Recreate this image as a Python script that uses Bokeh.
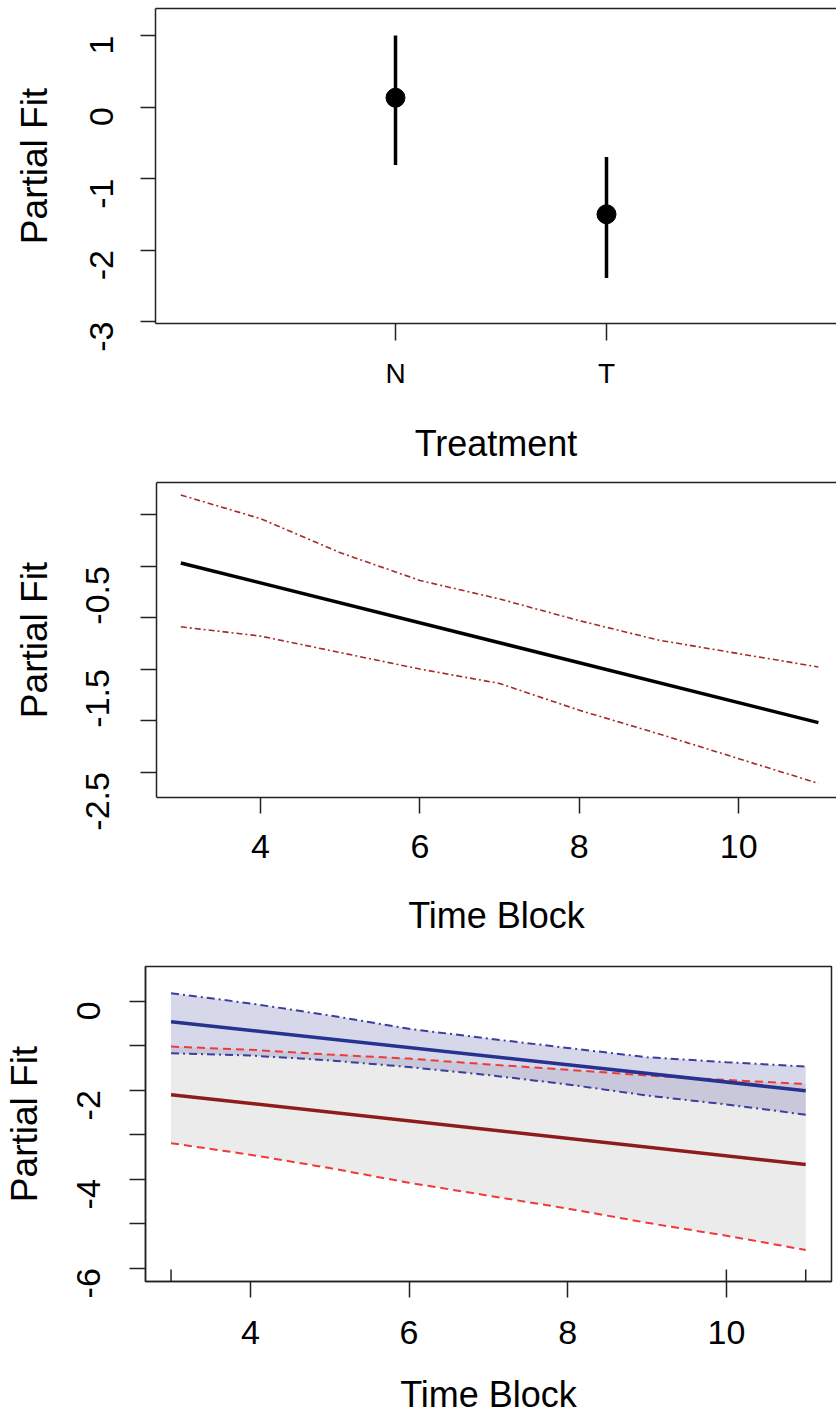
import math
from bokeh.plotting import figure
from bokeh.layouts import column
from bokeh.models import FixedTicker, LinearAxis, Range1d
from bokeh.embed import file_html
from bokeh.resources import INLINE

FONT = "Liberation Sans"
INK = "#222222"

# ---------------- Panel 1: Treatment effect ----------------
treatments = ["N", "T"]
treat_fit = [0.13, -1.50]
treat_lo = [-0.81, -2.39]
treat_hi = [1.00, -0.70]
p1_yticks = [-3, -2, -1, 0, 1]
p1_ylabels = ["-3", "-2", "-1", "0", "1"]

# ---------------- Panel 2: Time block effect ----------------
time_blocks = [3, 4, 5, 6, 7, 8, 9, 10, 11]
fit_ends_x = [3, 11]
time_fit = [-0.47, -2.02]
time_upper = [0.19, -0.04, -0.37, -0.64, -0.82, -1.03, -1.22, -1.35, -1.48]
time_lower = [-1.09, -1.18, -1.34, -1.50, -1.64, -1.90, -2.13, -2.37, -2.61]
p2_yticks = [-2.5, -2, -1.5, -1, -0.5, 0]
p2_ylabels = ["-2.5", "", "-1.5", "", "-0.5", ""]
time_xticks = [4, 6, 8, 10]
time_xlabels = ["4", "6", "8", "10"]

# ---------------- Panel 3: Time block by treatment ----------------
n_fit = [-0.46, -2.01]
n_upper = [0.18, -0.05, -0.32, -0.62, -0.84, -1.05, -1.26, -1.37, -1.47]
n_lower = [-1.17, -1.22, -1.33, -1.48, -1.66, -1.87, -2.12, -2.32, -2.55]
t_fit = [-2.10, -3.67]
t_upper = [-1.02, -1.09, -1.20, -1.29, -1.42, -1.54, -1.67, -1.77, -1.86]
t_lower = [-3.19, -3.45, -3.75, -4.08, -4.37, -4.66, -4.98, -5.27, -5.59]
rug_x = [3, 10, 11]
p3_yticks = [-6, -5, -4, -3, -2, -1, 0]
p3_ylabels = ["-6", "", "-4", "", "-2", "", "0"]


def make_fig(height, x_range, y_range, mb_left, mb_top, mb_bottom, mb_right, box):
    p = figure(width=836, height=height, output_backend="svg", toolbar_location=None,
               x_range=Range1d(*x_range), y_range=Range1d(*y_range),
               min_border_left=mb_left, min_border_top=mb_top,
               min_border_bottom=mb_bottom, min_border_right=mb_right)
    p.frame_align = False
    p.grid.visible = False
    p.background_fill_color = "white"
    p.border_fill_color = "white"
    if box:
        p.outline_line_color = INK
        p.outline_line_width = 1.5
        p.outline_line_alpha = 1.0
    else:
        p.outline_line_color = None
        top = LinearAxis(ticker=FixedTicker(ticks=[]), axis_line_color=INK, axis_line_width=1.5,
                         major_tick_line_color=None, minor_tick_line_color=None,
                         major_tick_in=0, major_tick_out=0,
                         major_label_text_font_size="0px", major_label_standoff=0)
        p.add_layout(top, "above")
    return p


def style_axes(p, xticks, xlabels, xfont, xtick_len, xstand, xtitle, xtstand,
               yticks, ylabels, ytick_len, ystand, ytstand):
    xa = p.below[0]
    xa.ticker = FixedTicker(ticks=xticks)
    xa.major_label_overrides = {t: l for t, l in zip(xticks, xlabels)}
    ya = p.left[0]
    ya.ticker = FixedTicker(ticks=yticks)
    ya.major_label_overrides = {t: l for t, l in zip(yticks, ylabels)}
    ya.major_label_orientation = math.pi / 2
    for ax, tl, st, ts in ((xa, xtick_len, xstand, xtstand), (ya, ytick_len, ystand, ytstand)):
        ax.axis_line_color = INK
        ax.axis_line_width = 1.5
        ax.major_tick_line_color = INK
        ax.major_tick_line_width = 1.5
        ax.major_tick_in = 0
        ax.major_tick_out = tl
        ax.minor_tick_line_color = None
        ax.major_label_text_font = FONT
        ax.major_label_text_color = "black"
        ax.major_label_standoff = st
        ax.axis_label_text_font = FONT
        ax.axis_label_text_font_style = "normal"
        ax.axis_label_text_color = "black"
        ax.axis_label_standoff = ts
    xa.major_label_text_font_size = xfont
    ya.major_label_text_font_size = "34px"
    xa.axis_label_text_font_size = "36px"
    ya.axis_label_text_font_size = "37px"
    xa.axis_label = xtitle
    ya.axis_label = "Partial Fit"


# ---- Figure 1 ----
p1 = make_fig(474, (-0.1374, 3.090), (-3.028, 1.378), 155, 8, 151, 0, box=False)
treat_pos = [i + 1 for i in range(len(treatments))]
p1.segment(x0=treat_pos, y0=treat_lo, x1=treat_pos, y1=treat_hi, line_color="black", line_width=3.5)
p1.scatter(x=treat_pos, y=treat_fit, size=19, marker="circle", fill_color="black", line_color="black")
style_axes(p1, treat_pos, treatments, "28px", 17, 17, "Treatment", 31,
           p1_yticks, p1_ylabels, 15, 39, 21)

# ---- Figure 2 ----
p2 = make_fig(470, (2.695, 11.227), (-2.747, 0.311), 156, 8, 147, 0, box=False)
p2.line(time_blocks, time_upper, line_color="#A52A2A", line_width=1.6, line_dash="6 3 2 3")
p2.line(time_blocks, time_lower, line_color="#A52A2A", line_width=1.6, line_dash="6 3 2 3")
p2.line(fit_ends_x, time_fit, line_color="black", line_width=3.5)
style_axes(p2, time_xticks, time_xlabels, "34px", 16, 21, "Time Block", 34,
           p2_yticks, p2_ylabels, 16, 43, 17)

# ---- Figure 3 ----
p3 = make_fig(474, (2.678, 11.325), (-6.299, 0.78), 144, 22, 137, 5, box=True)
p3.varea(x=time_blocks, y1=t_lower, y2=t_upper, fill_color="#ECEBEB", fill_alpha=1.0)
p3.varea(x=time_blocks, y1=n_lower, y2=n_upper, fill_color="#5A5FA8", fill_alpha=0.25)
p3.line(time_blocks, n_upper, line_color="#3B3E9C", line_width=2, line_dash="8 4 2 4")
p3.line(time_blocks, n_lower, line_color="#3B3E9C", line_width=2, line_dash="8 4 2 4")
p3.line(time_blocks, t_upper, line_color="#F03A3A", line_width=2, line_dash="8 5")
p3.line(time_blocks, t_lower, line_color="#F03A3A", line_width=2, line_dash="8 5")
p3.line(fit_ends_x, n_fit, line_color="#27318F", line_width=3.5)
p3.line(fit_ends_x, t_fit, line_color="#8E1C1C", line_width=3.5)
rug_base = p3.y_range.start
rug_top = rug_base + 0.27
p3.segment(x0=rug_x, y0=[rug_base] * len(rug_x), x1=rug_x, y1=[rug_top] * len(rug_x),
           line_color=INK, line_width=1.5)
style_axes(p3, time_xticks, time_xlabels, "34px", 16, 23, "Time Block", 27,
           p3_yticks, p3_ylabels, 16, 41, 18)

layout = column(p1, p2, p3, spacing=0)
open("out.html", "w").write(file_html(layout, INLINE))
